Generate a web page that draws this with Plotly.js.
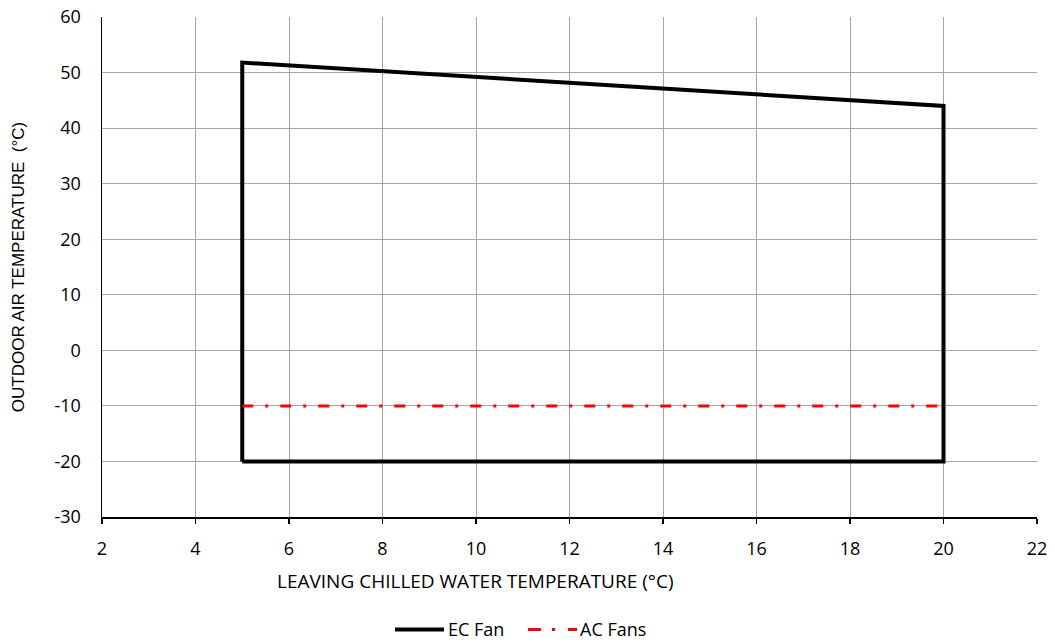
<!DOCTYPE html>
<html>
<head>
<meta charset="utf-8">
<script src="https://cdn.plot.ly/plotly-3.0.1.min.js"></script>
<style>html,body{margin:0;padding:0;background:#fff;}#chart{width:1055px;height:644px;}</style>
</head>
<body>
<div id="chart"></div>
<script>
const ecFanX = [5, 5, 20, 20, 5];
const ecFanY = [-20, 51.8, 44, -20, -20];
const acFansX = [5, 20];
const acFansY = [-10, -10];
const xTicks = [2, 4, 6, 8, 10, 12, 14, 16, 18, 20, 22];
const yTicks = [-30, -20, -10, 0, 10, 20, 30, 40, 50, 60];
const seriesNames = ['EC Fan', 'AC Fans'];
const xTitle = 'LEAVING CHILLED WATER TEMPERATURE (°C)';
const yTitle = 'OUTDOOR AIR TEMPERATURE  (°C)';

const font = "Open Sans, Liberation Sans, sans-serif";
const ecStyle = {color: '#000000', width: 4};
const acStyle = {color: '#ff0000', width: 3, dash: '11px,12px,3px,12px'};

const traces = [
  {x: ecFanX, y: ecFanY, mode: 'lines', name: seriesNames[0], line: ecStyle},
  {x: acFansX, y: acFansY, mode: 'lines', name: seriesNames[1], line: acStyle}
];

// plot area geometry (pixels) for positioning the custom legend/title
const L = 102, R = 1037, T = 17, B = 517.5;
const px = v => (v - L) / (R - L);
const py = v => (B - v) / (B - T);
const legY = py(630);

const layout = {
  width: 1055, height: 644,
  margin: {l: L, r: 1055 - R, t: T, b: 644 - B, autoexpand: false},
  paper_bgcolor: '#ffffff', plot_bgcolor: '#ffffff',
  font: {family: font, color: '#000000', size: 17},
  showlegend: false,
  xaxis: {
    range: [2, 22], tickvals: xTicks, ticktext: xTicks.map(String),
    showgrid: true, gridcolor: '#a6a6a6', gridwidth: 1,
    showline: true, linecolor: '#000000', linewidth: 1.5,
    ticks: 'outside', ticklen: 5, tickcolor: '#000000', tickwidth: 1.5,
    ticklabelstandoff: 10,
    zeroline: false, tickfont: {size: 18}
  },
  yaxis: {
    range: [-30, 60], tickvals: yTicks, ticktext: yTicks.map(String),
    showgrid: true, gridcolor: '#a6a6a6', gridwidth: 1,
    showline: true, linecolor: '#000000', linewidth: 1.5,
    ticks: '', zeroline: false, tickfont: {size: 18},
    ticklabelstandoff: 16,
    title: {text: yTitle, font: {size: 17, family: 'Liberation Sans, Arial, sans-serif'}, standoff: 25}
  },
  annotations: [
    {xref: 'paper', yref: 'paper', x: px(475.5), y: py(582), xanchor: 'center', yanchor: 'middle',
     text: xTitle, showarrow: false, font: {size: 19}},
    {xref: 'paper', yref: 'paper', x: px(448), y: legY, xanchor: 'left', yanchor: 'middle',
     text: seriesNames[0], showarrow: false, font: {size: 18}, xshift: -2},
    {xref: 'paper', yref: 'paper', x: px(580), y: legY, xanchor: 'left', yanchor: 'middle',
     text: seriesNames[1], showarrow: false, font: {size: 18}, xshift: -2}
  ],
  shapes: [
    {type: 'line', xref: 'paper', yref: 'paper', x0: px(395), x1: px(444), y0: legY, y1: legY,
     line: {color: ecStyle.color, width: 4}},
    {type: 'line', xref: 'paper', yref: 'paper', x0: px(528), x1: px(577), y0: legY, y1: legY,
     line: {color: acStyle.color, width: 3, dash: '13px,11px,3px,13px'}}
  ]
};

Plotly.newPlot('chart', traces, layout, {displayModeBar: false, staticPlot: true});
</script>
</body>
</html>
